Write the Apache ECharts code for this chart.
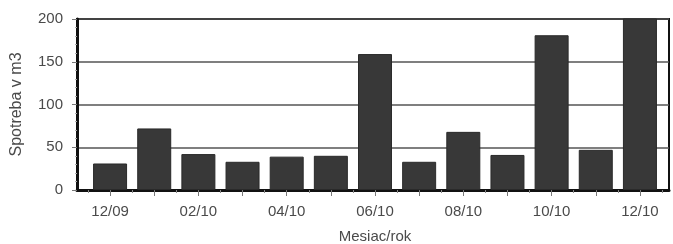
<!DOCTYPE html>
<html>
<head>
<meta charset="utf-8">
<script src="https://cdn.jsdelivr.net/npm/echarts@6/dist/echarts.min.js"></script>
<style>
  html, body { margin: 0; padding: 0; background: #fff; }
  #chart { width: 673px; height: 244px; }
</style>
</head>
<body>
<div id="chart"></div>
<script>
// mesiace 12/09 - 12/10
var months = ['12/09', '01/10', '02/10', '03/10', '04/10', '05/10', '06/10',
              '07/10', '08/10', '09/10', '10/10', '11/10', '12/10'];
// spotreba v m3 (posledny stlpec presahuje 200)
var consumption = [31, 72, 42, 33, 39, 40, 159, 33, 68, 41, 181, 47, 210];
var yTicks = [0, 50, 100, 150, 200];

var myChart = echarts.init(document.getElementById('chart'));
var font = 'Liberation Sans, Arial, sans-serif';
var textColor = '#4a4a4a';

// grid 0 = ramik + os y, grid 1 = stlpce (s medzerou od okraja)
var option = {
  animation: false,
  grid: [
    { left: 77, right: 4, top: 19, bottom: 54, outerBoundsMode: 'none', show: true, borderColor: '#111', borderWidth: 2 },
    { left: 88, right: 11, top: 19, bottom: 54, outerBoundsMode: 'none' }
  ],
  xAxis: [
    {
      gridIndex: 0, type: 'value', min: 0, max: 1,
      axisLine: { show: true, onZero: false, lineStyle: { color: '#111', width: 3 } },
      axisTick: { show: false }, axisLabel: { show: false }, splitLine: { show: false }
    },
    {
      gridIndex: 1,
      type: 'category',
      data: months,
      position: 'bottom',
      name: 'Mesiac/rok',
      nameLocation: 'middle',
      nameGap: 39,
      nameTextStyle: { color: textColor, fontSize: 15, fontFamily: font },
      axisLine: { show: false, onZero: false },
      axisTick: { show: true, interval: 0, length: 3, lineStyle: { color: '#888' } },
      axisLabel: { interval: 1, color: textColor, fontSize: 15, fontFamily: font, margin: 14 }
    },
    {
      gridIndex: 1,
      type: 'category',
      data: months,
      position: 'bottom',
      axisLine: { show: false, onZero: false },
      axisTick: { show: true, interval: 0, alignWithLabel: true, length: 6, lineStyle: { color: '#777' } },
      axisLabel: { show: false }
    }
  ],
  yAxis: [
    {
      gridIndex: 0,
      type: 'value',
      min: yTicks[0],
      max: yTicks[yTicks.length - 1],
      interval: 50,
      name: 'Spotreba v m3',
      nameLocation: 'middle',
      nameGap: 52,
      nameTextStyle: { color: textColor, fontSize: 16, fontFamily: font },
      axisLine: { show: true, lineStyle: { color: '#111', width: 3 } },
      axisTick: { show: true, length: 5, lineStyle: { color: '#777' } },
      minorTick: { show: true, splitNumber: 5, length: 2, lineStyle: { color: '#aaa' } },
      axisLabel: { color: textColor, fontSize: 15, fontFamily: font, margin: 14 },
      splitLine: { lineStyle: { color: '#555', width: 1.5 } }
    },
    {
      gridIndex: 1,
      type: 'value',
      min: yTicks[0],
      max: yTicks[yTicks.length - 1],
      interval: 50,
      show: false
    }
  ],
  series: [{
    type: 'bar',
    xAxisIndex: 1,
    yAxisIndex: 1,
    data: consumption,
    barCategoryGap: '23%',
    clip: true,
    itemStyle: { color: '#383838', borderColor: '#2a2a2a', borderWidth: 1 }
  }]
};

myChart.setOption(option);
</script>
</body>
</html>
